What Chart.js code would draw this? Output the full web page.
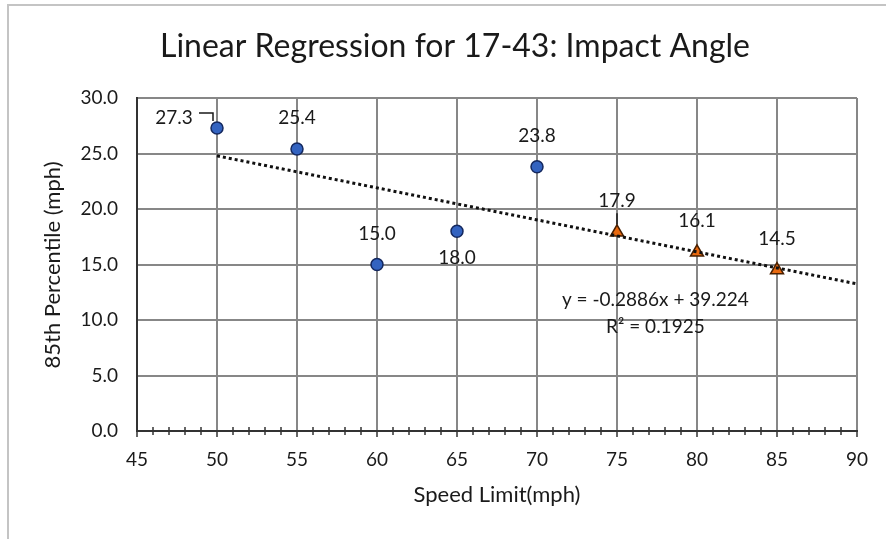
<!DOCTYPE html>
<html>
<head>
<meta charset="utf-8">
<script src="https://cdn.jsdelivr.net/npm/chart.js@4"></script>
<style>
  body { margin: 0; background: #fff; }
  #frame { position: absolute; left: 7px; top: 4px; width: 900px; height: 560px;
           border-left: 2px solid #c4c4c4; border-top: 2px solid #c4c4c4; }
  #chart { position: absolute; left: 0; top: 0; }
</style>
</head>
<body>
<div id="frame"></div>
<canvas id="chart" width="886" height="539"></canvas>
<script>
const FONT = "Lato, 'Open Sans', sans-serif";

const titleText = "Linear Regression for 17-43: Impact Angle";
const xTitle = "Speed Limit(mph)";
const yTitle = "85th Percentile (mph)";

// blue circles
const speedA = [50, 55, 60, 65, 70];
const pctA = [27.3, 25.4, 15.0, 18.0, 23.8];
// orange triangles
const speedB = [75, 80, 85];
const pctB = [17.9, 16.1, 14.5];

// dotted trendline ends
const trendX = [50, 90];
const trendY = [24.79, 13.25];
const eqText = "y = -0.2886x + 39.224";
const r2Text = "R² = 0.1925";

const xTicks = [45, 50, 55, 60, 65, 70, 75, 80, 85, 90];
const yTicks = [0, 5, 10, 15, 20, 25, 30];

const toPts = (xs, ys) => xs.map((x, i) => ({ x, y: ys[i] }));

// where each value label sits relative to its point
const labelPosA = ["left", "above", "above", "below", "above"];
const labelPosB = ["above", "above", "above"];

const labelsPlugin = {
    id: "labels",
    afterDatasetsDraw(chart) {
        const ctx = chart.ctx;
        ctx.save();
        ctx.fillStyle = "#1a1a1a";
        ctx.strokeStyle = "#1a1a1a";
        ctx.lineWidth = 1.5;
        ctx.font = "19px " + FONT;
        ctx.textAlign = "center";
        ctx.textBaseline = "middle";

        const put = (meta, vals, pos, leaders) => {
            meta.data.forEach((p, i) => {
                const t = vals[i].toFixed(1);
                let tx = p.x, ty = p.y - 31;
                if (pos[i] === "below") ty = p.y + 27;
                if (pos[i] === "left") { tx = p.x - 43; ty = p.y - 10; }
                ctx.fillText(t, tx, ty);
                if (leaders && leaders[i] === "elbow") {
                    ctx.beginPath();
                    ctx.moveTo(tx + 25, ty - 5);
                    ctx.lineTo(p.x - 4, ty - 5);
                    ctx.lineTo(p.x - 4, p.y - 7);
                    ctx.stroke();
                }
                if (leaders && leaders[i] === "down") {
                    ctx.beginPath();
                    ctx.moveTo(p.x, ty + 12);
                    ctx.lineTo(p.x, p.y - 8);
                    ctx.stroke();
                }
            });
        };
        put(chart.getDatasetMeta(0), pctA, labelPosA, ["elbow"]);
        put(chart.getDatasetMeta(1), pctB, labelPosB, ["down"]);

        // equation
        const xs = chart.scales.x, ys = chart.scales.y;
        ctx.fillText(eqText, xs.getPixelForValue(77.4), ys.getPixelForValue(11.8));
        ctx.fillText(r2Text, xs.getPixelForValue(77.4), ys.getPixelForValue(9.4));
        ctx.restore();
    },
    afterDraw(chart) {
        const ctx = chart.ctx;
        const xs = chart.scales.x;
        const a = chart.chartArea;
        ctx.save();
        // minor / major tick marks across the x axis
        ctx.strokeStyle = "#333";
        ctx.lineWidth = 1.5;
        for (let v = xs.min; v <= xs.max; v++) {
            const px = Math.round(xs.getPixelForValue(v));
            const major = v % 5 === 0;
            ctx.beginPath();
            ctx.moveTo(px, major ? a.bottom : a.bottom - 4);
            ctx.lineTo(px, a.bottom + (major ? 6 : 4));
            ctx.stroke();
        }
        ctx.fillStyle = "#1a1a1a";
        ctx.textAlign = "center";
        ctx.textBaseline = "middle";
        ctx.font = "32px " + FONT;
        ctx.fillText(titleText, 455, 47);
        ctx.font = "22px " + FONT;
        ctx.fillText(xTitle, 497, 495);
        ctx.translate(53, 265);
        ctx.rotate(-Math.PI / 2);
        ctx.fillText(yTitle, 0, 0);
        ctx.restore();
    }
};

new Chart(document.getElementById("chart"), {
    type: "scatter",
    data: {
        datasets: [
            {
                data: toPts(speedA, pctA),
                pointStyle: "circle",
                pointRadius: 6,
                backgroundColor: "#3363c0",
                borderColor: "#14285e",
                borderWidth: 1.5,
                order: 1
            },
            {
                data: toPts(speedB, pctB),
                pointStyle: "triangle",
                pointRadius: 7.5,
                backgroundColor: "#e8690f",
                borderColor: "#4a2000",
                borderWidth: 1.5,
                order: 1
            },
            {
                type: "line",
                data: toPts(trendX, trendY),
                borderColor: "#111",
                borderWidth: 3,
                borderDash: [3, 3],
                pointRadius: 0,
                fill: false,
                order: 0
            }
        ]
    },
    options: {
        responsive: false,
        animation: false,
        events: [],
        layout: { padding: { left: 0, top: 98, right: 29, bottom: 0 } },
        plugins: { legend: { display: false }, tooltip: { enabled: false } },
        scales: {
            x: {
                type: "linear",
                min: 45,
                max: 90,
                afterBuildTicks: s => { s.ticks = xTicks.map(v => ({ value: v })); },
                afterFit: s => { s.height = 108; },
                grid: { color: "#878787", lineWidth: 2, drawTicks: false },
                border: { color: "#333", width: 2 },
                ticks: { color: "#1a1a1a", padding: 17, maxRotation: 0, autoSkip: false,
                         font: { family: FONT, size: 19 } }
            },
            y: {
                min: 0,
                max: 30,
                afterBuildTicks: s => { s.ticks = yTicks.map(v => ({ value: v })); },
                afterFit: s => { s.width = 137; },
                grid: { color: "#878787", lineWidth: 2, drawTicks: false },
                border: { color: "#333", width: 2 },
                ticks: { color: "#1a1a1a", padding: 19, callback: v => v.toFixed(1),
                         font: { family: FONT, size: 19 } }
            }
        }
    },
    plugins: [labelsPlugin]
});
</script>
</body>
</html>
